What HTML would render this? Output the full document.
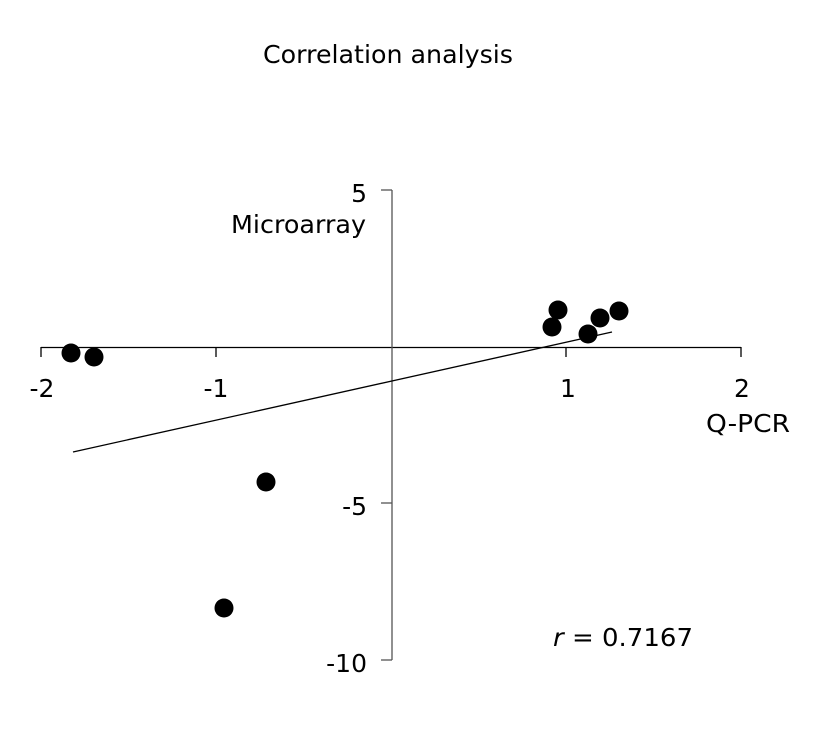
<!DOCTYPE html>
<html><head><style>
html,body{margin:0;padding:0;background:#fff;}
svg{display:block;}
text{font-family:"DejaVu Sans","Liberation Sans",sans-serif;font-size:25px;fill:#000;}
</style></head><body>
<svg width="813" height="735" viewBox="0 0 813 735">
<text x="388" y="63" text-anchor="middle" textLength="250" lengthAdjust="spacingAndGlyphs">Correlation analysis</text>
<g stroke="#000" stroke-width="1.3" fill="none">
<line x1="41" y1="347.5" x2="741" y2="347.5"/>
<line x1="41" y1="347" x2="41" y2="357"/>
<line x1="216" y1="347" x2="216" y2="357"/>
<line x1="566" y1="347" x2="566" y2="357"/>
<line x1="741" y1="347" x2="741" y2="357"/>
<line x1="392" y1="190" x2="392" y2="660" stroke="#555"/>
<line x1="381" y1="190" x2="392" y2="190" stroke="#555"/>
<line x1="381" y1="503" x2="392" y2="503" stroke="#555"/>
<line x1="381" y1="660" x2="392" y2="660" stroke="#555"/>
<line x1="73" y1="452" x2="612" y2="332"/>
</g>
<text x="42" y="397" text-anchor="middle">-2</text>
<text x="216" y="397" text-anchor="middle">-1</text>
<text x="568" y="397" text-anchor="middle">1</text>
<text x="742" y="397" text-anchor="middle">2</text>
<text x="790" y="432" text-anchor="end" textLength="84" lengthAdjust="spacingAndGlyphs">Q-PCR</text>
<text x="367" y="202" text-anchor="end">5</text>
<text x="366" y="233" text-anchor="end" textLength="135" lengthAdjust="spacingAndGlyphs">Microarray</text>
<text x="367" y="515" text-anchor="end">-5</text>
<text x="367" y="672" text-anchor="end">-10</text>
<text x="553" y="646" textLength="140" lengthAdjust="spacingAndGlyphs"><tspan font-style="italic">r</tspan> = 0.7167</text>
<g fill="#000">
<circle cx="71" cy="353" r="9.5"/>
<circle cx="94" cy="357" r="9.5"/>
<circle cx="266" cy="482" r="9.5"/>
<circle cx="224" cy="608" r="9.5"/>
<circle cx="552" cy="327" r="9.5"/>
<circle cx="558" cy="310" r="9.5"/>
<circle cx="588" cy="334" r="9.5"/>
<circle cx="600" cy="318" r="9.5"/>
<circle cx="619" cy="311" r="9.5"/>
</g>
</svg>
</body></html>
